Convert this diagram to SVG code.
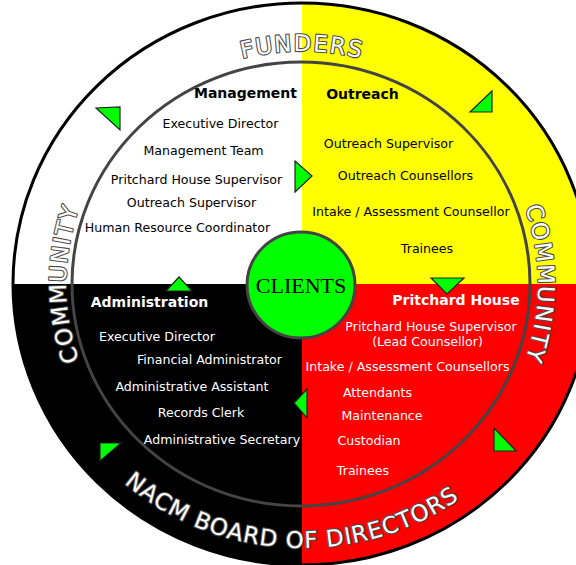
<svg xmlns="http://www.w3.org/2000/svg" width="576" height="565" viewBox="0 0 576 565">
<style>
.t{font-family:"DejaVu Sans",sans-serif;font-size:12.6px;text-anchor:middle}
.h{font-family:"DejaVu Sans",sans-serif;font-size:14px;font-weight:bold;text-anchor:middle}
.dk{fill:#000}
.lt{fill:#fff}
.ring{font-family:"DejaVu Sans",sans-serif;font-size:23px;fill:#fff;stroke:#4a4a4a;stroke-width:2.2;paint-order:stroke;stroke-linejoin:round;letter-spacing:1.5px}
.tri{fill:#00ff00;stroke:#222;stroke-width:1.2;stroke-linejoin:miter}
</style>
<defs>
<clipPath id="outerClip"><ellipse cx="302" cy="284" rx="289" ry="281"/></clipPath>
<path id="pFund" d="M66,284 A236,233 0 0 1 538,284"/>
<path id="pComL" d="M302,517 A236,233 0 0 1 302,51"/>
<path id="pComR" d="M302,51 A236,233 0 0 1 302,517"/>
<path id="pBoard" d="M31,284 A271,264 0 0 0 573,284"/>
</defs>
<rect width="576" height="565" fill="#fff"/>
<g id="quadrants" clip-path="url(#outerClip)">
<rect x="0" y="0" width="302" height="284" fill="#fff"/>
<rect x="302" y="0" width="300" height="284" fill="#ffff00"/>
<rect x="0" y="284" width="302" height="300" fill="#000"/>
<rect x="302" y="284" width="300" height="300" fill="#ff0000"/>
</g>
<g id="rings" fill="none">
<ellipse cx="302" cy="284" rx="289" ry="281" stroke="#000" stroke-width="3"/>
<ellipse cx="301" cy="284" rx="229" ry="222" stroke="#444" stroke-width="3"/>
</g>
<g id="funders"><text class="ring"><textPath href="#pFund" startOffset="50%" text-anchor="middle">FUNDERS</textPath></text></g>
<g id="community-left"><text class="ring"><textPath href="#pComL" startOffset="50%" text-anchor="middle">COMMUNITY</textPath></text></g>
<g id="community-right"><text class="ring"><textPath href="#pComR" startOffset="50%" text-anchor="middle">COMMUNITY</textPath></text></g>
<g id="board"><text class="ring" style="letter-spacing:1px"><textPath href="#pBoard" startOffset="48.5%" text-anchor="middle">NACM BOARD OF DIRECTORS</textPath></text></g>
<g id="management">
<text class="h dk" x="245.5" y="98">Management</text>
<text class="t dk" x="220.5" y="128">Executive Director</text>
<text class="t dk" x="203.5" y="155">Management Team</text>
<text class="t dk" x="196.5" y="184">Pritchard House Supervisor</text>
<text class="t dk" x="191.5" y="207">Outreach Supervisor</text>
<text class="t dk" x="177.5" y="232">Human Resource Coordinator</text>
</g>
<g id="outreach">
<text class="h dk" x="362.5" y="99">Outreach</text>
<text class="t dk" x="388.5" y="148">Outreach Supervisor</text>
<text class="t dk" x="405.5" y="180">Outreach Counsellors</text>
<text class="t dk" x="411" y="216">Intake / Assessment Counsellor</text>
<text class="t dk" x="427" y="253">Trainees</text>
</g>
<g id="administration">
<text class="h lt" x="149.5" y="307">Administration</text>
<text class="t lt" x="157" y="341">Executive Director</text>
<text class="t lt" x="209.5" y="364">Financial Administrator</text>
<text class="t lt" x="192" y="391">Administrative Assistant</text>
<text class="t lt" x="201" y="417">Records Clerk</text>
<text class="t lt" x="222" y="444">Administrative Secretary</text>
</g>
<g id="pritchard-house">
<text class="h lt" x="456" y="305">Pritchard House</text>
<text class="t lt" x="431" y="331">Pritchard House Supervisor</text>
<text class="t lt" x="427.5" y="345.5">(Lead Counsellor)</text>
<text class="t lt" x="407.5" y="371">Intake / Assessment Counsellors</text>
<text class="t lt" x="377.5" y="397">Attendants</text>
<text class="t lt" x="382" y="420">Maintenance</text>
<text class="t lt" x="369" y="445">Custodian</text>
<text class="t lt" x="363" y="475">Trainees</text>
</g>
<g id="clients">
<ellipse cx="301" cy="285" rx="54" ry="53" fill="#00ff00" stroke="#444" stroke-width="3"/>
<text x="301" y="293" font-family="'Liberation Serif',serif" font-size="22" text-anchor="middle" fill="#000">CLIENTS</text>
</g>
<g id="connectors">
<polygon class="tri" points="96,108 120,107 120,130"/>
<polygon class="tri" points="470,112 492,91 492,112"/>
<polygon class="tri" points="295,161 312,176 295,192"/>
<polygon class="tri" points="166,291 179,277 192,291"/>
<polygon class="tri" points="431,278 464,278 447,294"/>
<polygon class="tri" points="307,389 294,403 307,418"/>
<polygon class="tri" points="100,443 121,443 100,461"/>
<polygon class="tri" points="494,428 516,451 494,451"/>
</g>
</svg>
